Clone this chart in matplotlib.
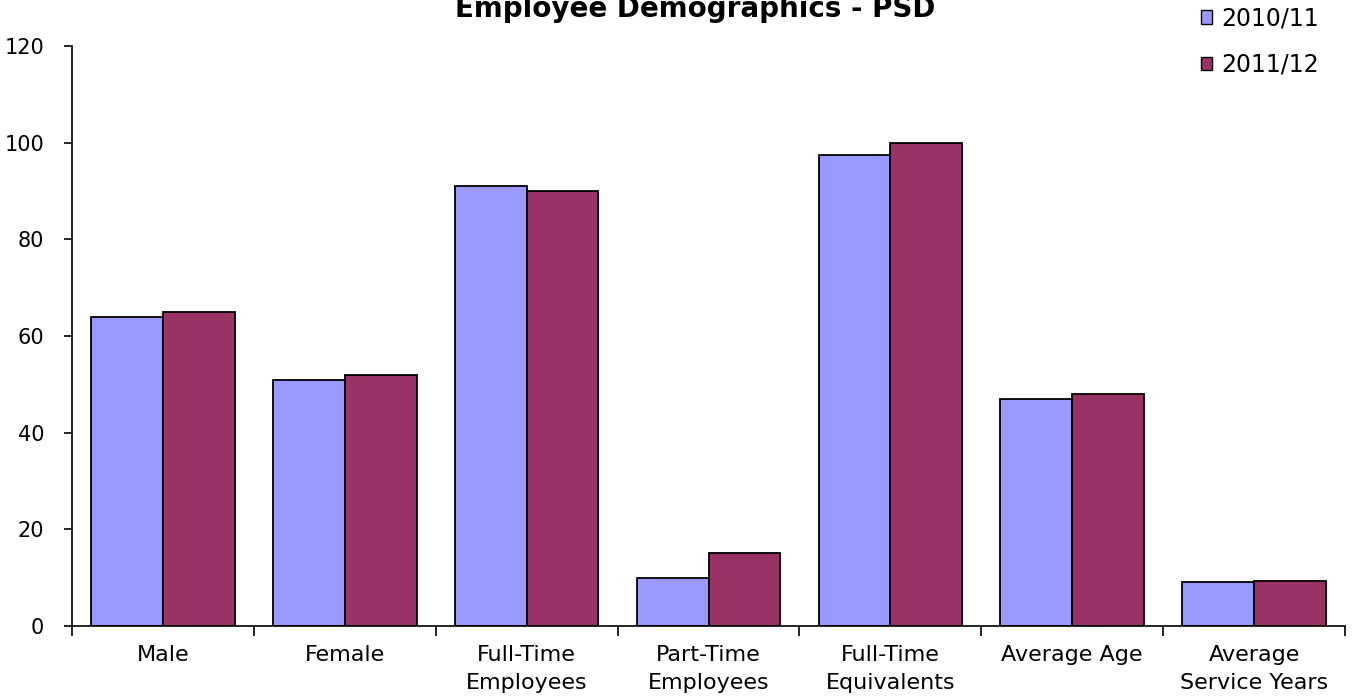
import matplotlib.pyplot as plt
from matplotlib.patches import Patch
import numpy as np

categories = ["Male", "Female", "Full-Time\nEmployees", "Part-Time\nEmployees",
              "Full-Time\nEquivalents", "Average Age", "Average\nService Years"]
series_names = ["2010/11", "2011/12"]
values_2010 = [64, 51, 91, 10, 97.5, 47, 9]
values_2011 = [65, 52, 90, 15, 100, 48, 9.3]
colors = ["#9999FF", "#993366"]

plt.rcParams['font.family'] = ['DejaVu Sans']

fig = plt.figure(figsize=(13.52, 6.98), dpi=100)
ax = fig.add_axes([0.0533, 0.1032, 0.9415, 0.8308])

x = np.arange(len(categories))
width = 0.395
ax.bar(x - width / 2, values_2010, width, color=colors[0], edgecolor="black", linewidth=1.3)
ax.bar(x + width / 2, values_2011, width, color=colors[1], edgecolor="black", linewidth=1.3)

ax.set_xlim(-0.5, len(categories) - 0.5)
ax.set_ylim(0, 120)
ax.set_yticks(range(0, 121, 20))
ax.tick_params(axis="y", labelsize=15, length=6, width=1.2, direction="out", pad=14)

# category boundaries get tick marks, labels sit in the middle
ax.set_xticks(np.arange(-0.5, len(categories), 1.0))
ax.set_xticklabels([])
ax.tick_params(axis="x", which="major", length=7, width=1.2, direction="out")
ax.set_xticks(x, minor=True)
ax.set_xticklabels(categories, minor=True, fontsize=16, linespacing=1.45)
ax.tick_params(axis="x", which="minor", length=0, pad=14)

for side in ["top", "right"]:
    ax.spines[side].set_visible(False)
for side in ["left", "bottom"]:
    ax.spines[side].set_linewidth(1.2)

fig.text(0.514, 1 - 17 / 698, "Employee Demographics - PSD", ha="center", va="baseline",
         fontsize=20, fontweight="bold")

handles = [Patch(facecolor=c, edgecolor="black", linewidth=1.0) for c in colors]
fig.legend(handles, series_names, loc="upper left", bbox_to_anchor=(0.888, 0.991),
           frameon=False, fontsize=17, handlelength=0.5, handleheight=0.5,
           handletextpad=0.38, labelspacing=0.95, borderpad=0, borderaxespad=0)

fig.savefig("out.png", dpi=100)
